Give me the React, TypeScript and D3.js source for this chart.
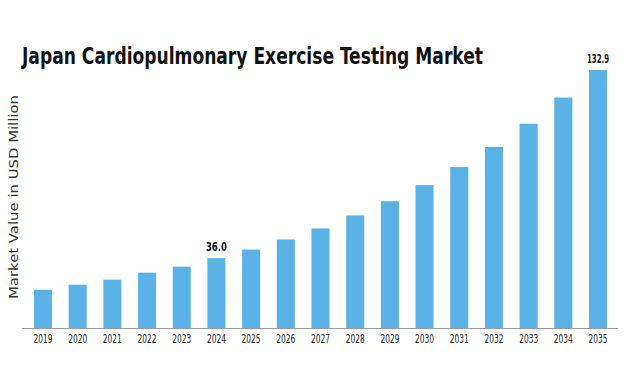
import { useEffect, useRef } from "react";
import * as d3 from "d3";

const years = [
  "2019", "2020", "2021", "2022", "2023", "2024", "2025", "2026", "2027",
  "2028", "2029", "2030", "2031", "2032", "2033", "2034", "2035",
];
const values = [
  19.7, 22.3, 24.9, 28.5, 31.6, 36.0, 40.4, 45.6, 51.3,
  58.0, 65.3, 73.6, 82.9, 93.3, 105.2, 118.7, 132.9,
];
// only these two bars carry a value label
const labelled = ["2024", "2035"];

const W = 633;
const H = 387;
const narrow = "'Liberation Sans Narrow', 'DejaVu Sans Condensed', 'DejaVu Sans'";

export default function App() {
  const ref = useRef<SVGSVGElement>(null);

  useEffect(() => {
    const svg = d3.select(ref.current);
    svg.selectAll("*").remove();

    const baseY = 328;
    const x = d3
      .scaleBand<string>()
      .domain(years)
      .range([26, 615])
      .paddingInner(0.48)
      .paddingOuter(0.23);
    const y = d3.scaleLinear().domain([0, 132.9]).range([baseY, 70]);

    // the source font is a condensed sans; squeeze to fit
    svg
      .append("text")
      .attr("x", 22)
      .attr("y", 64)
      .attr("font-family", narrow)
      .attr("font-weight", "bold")
      .attr("font-size", 23)
      .attr("textLength", 461)
      .attr("lengthAdjust", "spacingAndGlyphs")
      .attr("fill", "#111")
      .text("Japan Cardiopulmonary Exercise Testing Market");

    svg
      .append("text")
      .attr("transform", `translate(18,${197}) rotate(-90)`)
      .attr("text-anchor", "middle")
      .attr("font-family", "DejaVu Sans")
      .attr("font-size", 13)
      .attr("textLength", 204)
      .attr("lengthAdjust", "spacingAndGlyphs")
      .attr("fill", "#333")
      .text("Market Value in USD Million");

    svg
      .append("g")
      .selectAll("rect")
      .data(years)
      .join("rect")
      .attr("x", (d) => x(d)!)
      .attr("width", x.bandwidth())
      .attr("y", (_, i) => y(values[i]))
      .attr("height", (_, i) => baseY - y(values[i]))
      .attr("fill", "#5BB2E6");

    svg
      .append("line")
      .attr("x1", 22)
      .attr("x2", 618)
      .attr("y1", baseY + 0.5)
      .attr("y2", baseY + 0.5)
      .attr("stroke", "#999")
      .attr("stroke-width", 1);

    svg
      .append("g")
      .selectAll("text")
      .data(years)
      .join("text")
      .attr("x", (d) => x(d)! + x.bandwidth() / 2)
      .attr("y", 343)
      .attr("text-anchor", "middle")
      .attr("font-family", narrow)
      .attr("font-size", 12)
      .attr("textLength", 19)
      .attr("lengthAdjust", "spacingAndGlyphs")
      .attr("fill", "#222")
      .text((d) => d);

    svg
      .append("g")
      .selectAll("text")
      .data(years.filter((d) => labelled.includes(d)))
      .join("text")
      .attr("x", (d) => x(d)! + x.bandwidth() / 2)
      .attr("y", (d) => y(values[years.indexOf(d)]) - 7)
      .attr("text-anchor", "middle")
      .attr("font-family", narrow)
      .attr("font-weight", "bold")
      .attr("font-size", 11.5)
      .attr("textLength", (d) => (values[years.indexOf(d)] >= 100 ? 22 : 21))
      .attr("lengthAdjust", "spacingAndGlyphs")
      .attr("fill", "#111")
      .text((d) => values[years.indexOf(d)].toFixed(1));
  }, []);

  return (
    <svg
      ref={ref}
      width={W}
      height={H}
      style={{ position: "absolute", left: 0, top: 0, background: "#fff" }}
    />
  );
}
